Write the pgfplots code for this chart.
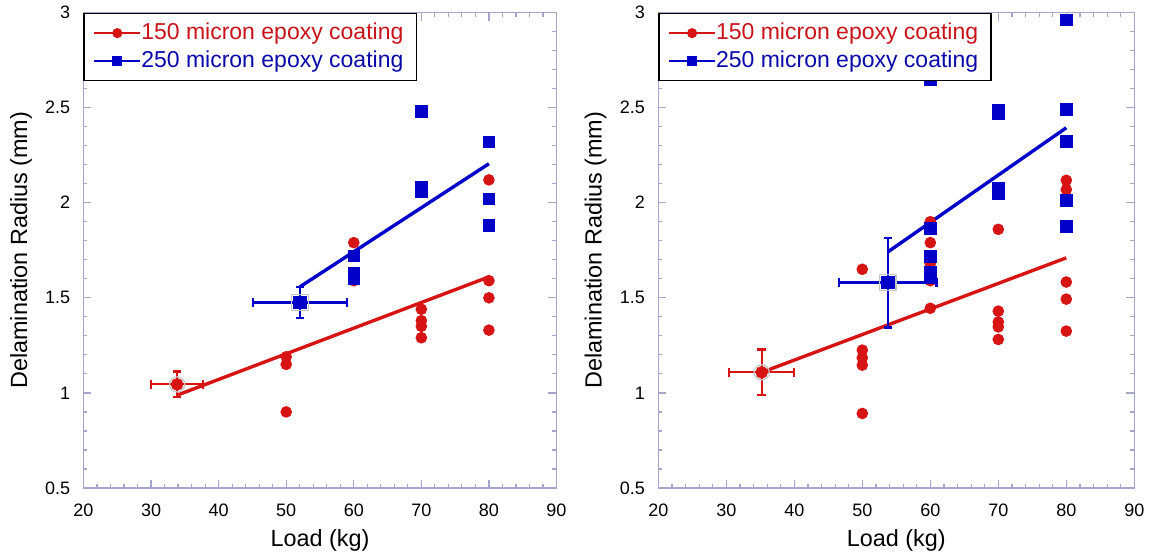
\documentclass[border=0pt]{standalone}
\usepackage{fontspec}
\setmainfont{Liberation Sans}
\usepackage{pgfplots}
\pgfplotsset{compat=1.18}

\definecolor{epred}{RGB}{215,20,20}
\definecolor{epblue}{RGB}{0,0,200}
\definecolor{eptextred}{RGB}{200,20,25}
\definecolor{eptextblue}{RGB}{10,10,170}
\definecolor{framecol}{RGB}{165,165,205}

\pgfplotsset{
  delam/.style={
    scale only axis,
    height=237.75pt,
    xmin=20, xmax=90, ymin=0.5, ymax=3,
    xtick={20,30,40,50,60,70,80,90},
    ytick={0.5,1,1.5,2,2.5,3},
    minor x tick num=4, minor y tick num=4,
    axis line style={framecol, line width=0.6pt},
    every tick/.style={framecol, line width=0.6pt},
    major tick length=4pt, minor tick length=2pt,
    tick align=inside,
    /pgf/number format/assume math mode=true,
    ticklabel style={font=\fontsize{9}{10}\selectfont, text=black},
    yticklabel style={xshift=-3.2pt},
    xticklabel style={yshift=-4.5pt},
    label style={font=\fontsize{11.7}{14}\selectfont},
    xlabel={Load (kg)},
    ylabel={Delamination Radius (mm)},
    xlabel style={at={(axis description cs:0.5,-0.11)}, anchor=center},
    ylabel style={at={(axis description cs:-0.132,0.5)}, anchor=center},
    legend style={at={(0,1)}, anchor=north west, draw=black, line width=0.8pt,
      font=\fontsize{11.5}{13.5}\selectfont, inner xsep=4.5pt, inner ysep=3pt,
      row sep=0pt,
      /tikz/every odd column/.append style={column sep=-2pt}},
    legend cell align=left,
    legend image code/.code={%
      \draw[mark repeat=2, mark phase=2, #1]
        plot coordinates {(0pt,0pt) (11.5pt,0pt) (23pt,0pt)};},
  },
  redpts/.style={only marks, mark=*, mark size=2.7pt, color=epred, forget plot},
  bluepts/.style={only marks, mark=square*, mark size=2.9pt, color=epblue, forget plot},
  fitline/.style={no marks, line width=1.7pt, forget plot},
  meanbar/.style={forget plot, line width=1.1pt,
    error bars/.cd, x dir=both, x explicit, y dir=both, y explicit,
    error bar style={line width=1.1pt},
    error mark options={rotate=90, line width=1.1pt, mark size=2.1pt},
    /pgfplots/.cd},
  halo/.style={only marks, mark options={draw=gray!45, fill=none, line width=0.6pt}, forget plot},
}

\begin{document}
\begin{tikzpicture}
\path[use as bounding box] (0,0) rectangle (576.5pt,277pt);

% ---- left panel ----
\begin{axis}[delam, width=236.5pt, at={(41.75pt,33pt)}, anchor=south west]
\addlegendimage{epred, line width=1pt, mark=*, mark size=2pt}
\addlegendentry{\textcolor{eptextred}{150 micron epoxy coating}}
\addlegendimage{epblue, line width=1pt, mark=square*, mark size=2pt}
\addlegendentry{\textcolor{eptextblue}{250 micron epoxy coating}}

\addplot[redpts] coordinates {
  (50,1.19) (50,1.15) (50,0.90)
  (60,1.79) (60,1.59)
  (70,1.44) (70,1.38) (70,1.35) (70,1.29)
  (80,2.12) (80,1.59) (80,1.50) (80,1.33)};
\addplot[bluepts] coordinates {
  (60,1.72) (60,1.63) (60,1.60)
  (70,2.48) (70,2.08) (70,2.06)
  (80,2.32) (80,2.02) (80,1.88)};

\addplot[fitline, epred]  coordinates {(34,0.99) (80,1.61)};
\addplot[fitline, epblue] coordinates {(52,1.557) (80,2.205)};

\addplot[halo, mark=o, mark size=3.8pt] coordinates {(33.85,1.045)};
\addplot[halo, mark=square, mark size=4.1pt] coordinates {(52.05,1.475)};
\addplot[epred, mark=*, mark size=2.6pt, meanbar]
  coordinates {(33.85,1.045) +- (3.85,0.068)};
\addplot[epblue, mark=square*, mark size=2.8pt, meanbar]
  coordinates {(52.05,1.475) +- (7.0,0.083)};
\end{axis}

% ---- right panel ----
\begin{axis}[delam, width=238pt, at={(329.15pt,33pt)}, anchor=south west]
\addlegendimage{epred, line width=1pt, mark=*, mark size=2pt}
\addlegendentry{\textcolor{eptextred}{150 micron epoxy coating}}
\addlegendimage{epblue, line width=1pt, mark=square*, mark size=2pt}
\addlegendentry{\textcolor{eptextblue}{250 micron epoxy coating}}

\addplot[redpts] coordinates {
  (50,1.65) (50,1.225) (50,1.185) (50,1.146) (50,0.892)
  (60,1.90) (60,1.79) (60,1.68) (60,1.59) (60,1.445)
  (70,1.86) (70,1.43) (70,1.373) (70,1.347) (70,1.281)
  (80,2.118) (80,2.069) (80,1.583) (80,1.493) (80,1.325)};
\addplot[bluepts] coordinates {
  (60,2.645) (60,1.864) (60,1.718) (60,1.635) (60,1.605)
  (70,2.485) (70,2.47) (70,2.074) (70,2.048)
  (80,2.962) (80,2.492) (80,2.321) (80,2.013) (80,1.876)};

\addplot[fitline, epred]  coordinates {(35.2,1.108) (80,1.71)};
\addplot[fitline, epblue] coordinates {(53.75,1.741) (80,2.394)};

\addplot[halo, mark=o, mark size=3.8pt] coordinates {(35.2,1.108)};
\addplot[halo, mark=square, mark size=4.1pt] coordinates {(53.75,1.58)};
\addplot[epred, mark=*, mark size=2.6pt, meanbar]
  coordinates {(35.2,1.108) +- (4.8,0.12)};
\addplot[epblue, mark=square*, mark size=2.8pt, meanbar]
  coordinates {(53.75,1.58) +- (7.15,0.236)};
\end{axis}
\end{tikzpicture}
\end{document}
